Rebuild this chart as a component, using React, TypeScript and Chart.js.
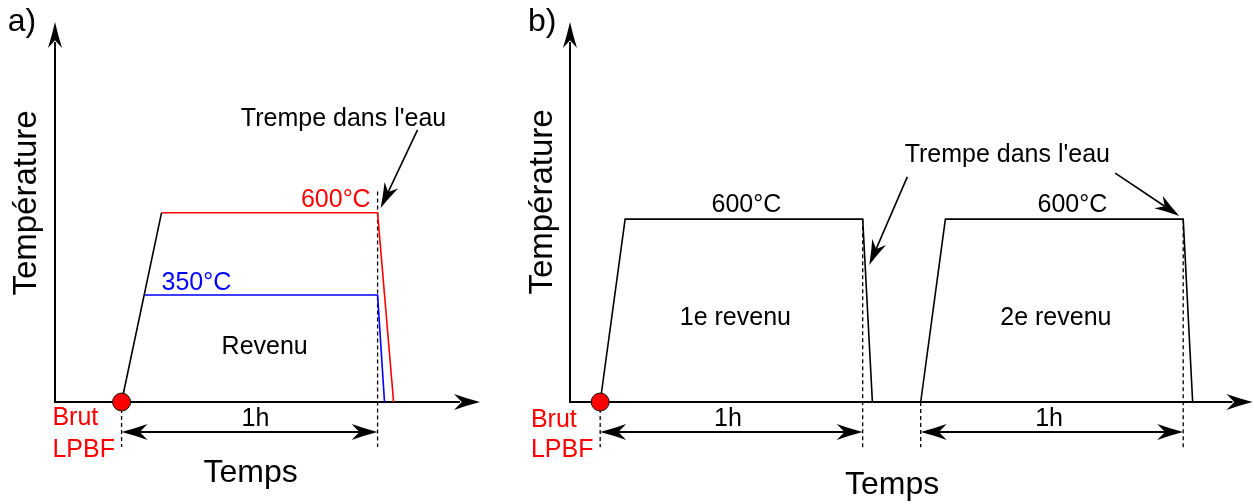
import React, { useEffect, useRef } from 'react';
import { Chart, registerables } from 'chart.js';

Chart.register(...registerables);

const FONT = '"Liberation Sans", Arial, Helvetica, sans-serif';

// ---------- Panel a) : single tempering at 600°C or 350°C ----------
const A_X_RANGE = [-0.26, 1.4]; // hours
const A_Y_RANGE = [25, 1180]; // °C (ambient at the time axis)
const A_RAMP_T = [0, 0.156];
const A_RAMP_TEMP = [25, 600];
const A_600_T = [0.156, 1.0, 1.0625];
const A_600_TEMP = [600, 600, 25];
const A_350_T = [0.088, 1.0, 1.027];
const A_350_TEMP = [350, 350, 25];
const A_DASH_T = [0, 1.0];
const A_DASH_TOP = [25, 665];
const A_DASH_BOTTOM = -112;
const A_SPAN_FROM = [0];
const A_SPAN_TO = [1.0];
const A_SPAN_LEVEL = -66;

// ---------- Panel b) : double tempering at 600°C ----------
const B_X_RANGE = [-0.115, 2.485];
const B_Y_RANGE = [25, 1220];
const B_CYCLE1_T = [0, 0.095, 1.0, 1.037];
const B_CYCLE1_TEMP = [25, 600, 600, 25];
const B_CYCLE2_T = [1.221, 1.315, 2.221, 2.257];
const B_CYCLE2_TEMP = [25, 600, 600, 25];
const B_DASH_T = [0, 1.0, 1.221, 2.221];
const B_DASH_TOP = [25, 600, 25, 600];
const B_DASH_BOTTOM = -117;
const B_SPAN_FROM = [0, 1.221];
const B_SPAN_TO = [1.0, 2.221];
const B_SPAN_LEVEL = -69;

type Txt = {
  text: string;
  t: number;
  temp: number;
  color?: string;
  size: number;
  align?: CanvasTextAlign;
  rotate?: boolean;
};
type Pointer = { from: [number, number]; to: [number, number] };
type Line = { t: number[]; temp: number[]; color: string; width: number; dash?: number[] };

type Spec = {
  left: number;
  width: number;
  padding: { left: number; right: number; top: number; bottom: number };
  xRange: number[];
  yRange: number[];
  lines: Line[];
  start: [number, number];
  spanFrom: number[];
  spanTo: number[];
  spanLevel: number;
  texts: Txt[];
  pointers: Pointer[];
};

function buildLines(t: number[], temp: number[]) {
  return t.map((x, i) => ({ x, y: temp[i] }));
}

function dashLines(ts: number[], tops: number[], bottom: number): Line[] {
  return ts.map((t, i) => ({ t: [t, t], temp: [tops[i], bottom], color: '#000', width: 1.3, dash: [4, 3] }));
}

const SPEC_A: Spec = {
  left: 0,
  width: 510,
  padding: { left: 55, right: 30, top: 22, bottom: 102 },
  xRange: A_X_RANGE,
  yRange: A_Y_RANGE,
  lines: [
    { t: A_RAMP_T, temp: A_RAMP_TEMP, color: '#000', width: 1.6 },
    { t: A_600_T, temp: A_600_TEMP, color: '#ff0000', width: 1.6 },
    { t: A_350_T, temp: A_350_TEMP, color: '#0000ff', width: 1.6 },
    ...dashLines(A_DASH_T, A_DASH_TOP, A_DASH_BOTTOM),
  ],
  start: [0, 25],
  spanFrom: A_SPAN_FROM,
  spanTo: A_SPAN_TO,
  spanLevel: A_SPAN_LEVEL,
  texts: [
    { text: 'a)', t: -0.445, temp: 1180, size: 32, align: 'left' },
    { text: 'Température', t: -0.371, temp: 630, size: 33, rotate: true },
    { text: 'Temps', t: 0.504, temp: -191, size: 32 },
    { text: '600°C', t: 0.973, temp: 639, size: 25, color: '#ff0000', align: 'right' },
    { text: '350°C', t: 0.156, temp: 387, size: 25, color: '#0000ff', align: 'left' },
    { text: 'Revenu', t: 0.559, temp: 192, size: 25 },
    { text: '1h', t: 0.523, temp: -27, size: 25 },
    { text: "Trempe dans l'eau", t: 0.867, temp: 885, size: 25 },
    { text: 'Brut', t: -0.27, temp: -24, size: 25, color: '#ff0000', align: 'left' },
    { text: 'LPBF', t: -0.27, temp: -121, size: 25, color: '#ff0000', align: 'left' },
  ],
  pointers: [{ from: [1.156, 852], to: [1.012, 615] }],
};

const SPEC_B: Spec = {
  left: 510,
  width: 744,
  padding: { left: 60, right: 1.5, top: 22, bottom: 102 },
  xRange: B_X_RANGE,
  yRange: B_Y_RANGE,
  lines: [
    { t: B_CYCLE1_T, temp: B_CYCLE1_TEMP, color: '#000', width: 1.6 },
    { t: B_CYCLE2_T, temp: B_CYCLE2_TEMP, color: '#000', width: 1.6 },
    ...dashLines(B_DASH_T, B_DASH_TOP, B_DASH_BOTTOM),
  ],
  start: [0, 25],
  spanFrom: B_SPAN_FROM,
  spanTo: B_SPAN_TO,
  spanLevel: B_SPAN_LEVEL,
  texts: [
    { text: 'b)', t: -0.275, temp: 1220, size: 32, align: 'left' },
    { text: 'Température', t: -0.219, temp: 654, size: 33, rotate: true },
    { text: 'Temps', t: 1.112, temp: -236, size: 32 },
    { text: '600°C', t: 0.557, temp: 645, size: 25 },
    { text: '600°C', t: 1.799, temp: 645, size: 25 },
    { text: '1e revenu', t: 0.515, temp: 289, size: 25 },
    { text: '2e revenu', t: 1.736, temp: 289, size: 25 },
    { text: '1h', t: 0.487, temp: -28, size: 25 },
    { text: '1h', t: 1.71, temp: -28, size: 25 },
    { text: "Trempe dans l'eau", t: 1.551, temp: 802, size: 25 },
    { text: 'Brut', t: -0.264, temp: -32, size: 25, color: '#ff0000', align: 'left' },
    { text: 'LPBF', t: -0.264, temp: -126, size: 25, color: '#ff0000', align: 'left' },
  ],
  pointers: [
    { from: [1.17, 733], to: [1.025, 456] },
    { from: [1.962, 745], to: [2.206, 610] },
  ],
};

function arrowHead(ctx: CanvasRenderingContext2D, x: number, y: number, angle: number, len: number, half: number) {
  ctx.save();
  ctx.translate(x, y);
  ctx.rotate(angle);
  ctx.beginPath();
  ctx.moveTo(0, 0);
  ctx.quadraticCurveTo(-len * 0.5, -half * 0.42, -len, -half);
  ctx.lineTo(-len * 0.7, 0);
  ctx.lineTo(-len, half);
  ctx.quadraticCurveTo(-len * 0.5, half * 0.42, 0, 0);
  ctx.closePath();
  ctx.fillStyle = '#000';
  ctx.fill();
  ctx.restore();
}

function arrowLine(
  ctx: CanvasRenderingContext2D,
  x1: number,
  y1: number,
  x2: number,
  y2: number,
  len: number,
  half: number,
  width: number,
  both = false
) {
  const ang = Math.atan2(y2 - y1, x2 - x1);
  const back = len * 0.7;
  const sx = both ? x1 + Math.cos(ang) * back : x1;
  const sy = both ? y1 + Math.sin(ang) * back : y1;
  const ex = x2 - Math.cos(ang) * back;
  const ey = y2 - Math.sin(ang) * back;
  ctx.save();
  ctx.strokeStyle = '#000';
  ctx.lineWidth = width;
  ctx.beginPath();
  ctx.moveTo(sx, sy);
  ctx.lineTo(ex, ey);
  ctx.stroke();
  ctx.restore();
  arrowHead(ctx, x2, y2, ang, len, half);
  if (both) arrowHead(ctx, x1, y1, ang + Math.PI, len, half);
}

function Panel({ spec }: { spec: Spec }) {
  const ref = useRef<HTMLCanvasElement | null>(null);
  useEffect(() => {
    if (!ref.current) return;
    const s = spec;
    const axesPlugin = {
      id: 'axesArrows',
      beforeDatasetsDraw(chart: any) {
        const ctx: CanvasRenderingContext2D = chart.ctx;
        const xs = chart.scales.x;
        const ys = chart.scales.y;
        const x0 = xs.getPixelForValue(s.xRange[0]);
        const x1 = xs.getPixelForValue(s.xRange[1]);
        const y0 = ys.getPixelForValue(s.yRange[0]);
        const y1 = ys.getPixelForValue(s.yRange[1]);
        ctx.save();
        ctx.strokeStyle = '#000';
        ctx.lineWidth = 2;
        ctx.beginPath();
        ctx.moveTo(x0, y1 + 20);
        ctx.lineTo(x0, y0);
        ctx.lineTo(x1 - 20, y0);
        ctx.stroke();
        ctx.restore();
        arrowHead(ctx, x0, y1, -Math.PI / 2, 26, 7);
        arrowHead(ctx, x1, y0, 0, 26, 8);
      },
    };
    const annotPlugin = {
      id: 'annotations',
      afterDatasetsDraw(chart: any) {
        const ctx: CanvasRenderingContext2D = chart.ctx;
        const xs = chart.scales.x;
        const ys = chart.scales.y;
        const px = (v: number) => xs.getPixelForValue(v);
        const py = (v: number) => ys.getPixelForValue(v);
        s.spanFrom.forEach((f, i) => {
          arrowLine(ctx, px(f), py(s.spanLevel), px(s.spanTo[i]), py(s.spanLevel), 26, 8, 2, true);
        });
        s.pointers.forEach((p) => {
          arrowLine(ctx, px(p.from[0]), py(p.from[1]), px(p.to[0]), py(p.to[1]), 25, 7.5, 1.6);
        });
        s.texts.forEach((tx) => {
          ctx.save();
          ctx.fillStyle = tx.color || '#000';
          ctx.font = `${tx.size}px ${FONT}`;
          ctx.textAlign = tx.align || 'center';
          ctx.textBaseline = 'middle';
          const x = px(tx.t);
          const y = py(tx.temp);
          if (tx.rotate) {
            ctx.translate(x, y);
            ctx.rotate(-Math.PI / 2);
            ctx.fillText(tx.text, 0, 0);
          } else {
            ctx.fillText(tx.text, x, y);
          }
          ctx.restore();
        });
      },
    };

    const datasets: any[] = [
      {
        label: 'start',
        data: [{ x: s.start[0], y: s.start[1] }],
        showLine: false,
        pointRadius: 9,
        pointBackgroundColor: '#ff0000',
        pointBorderColor: '#111',
        pointBorderWidth: 1,
        clip: false,
        order: 0,
      },
      ...s.lines.map((l, i) => ({
        label: 'line' + i,
        data: buildLines(l.t, l.temp),
        showLine: true,
        borderColor: l.color,
        borderWidth: l.width,
        borderDash: l.dash || [],
        pointRadius: 0,
        fill: false,
        tension: 0,
        clip: false,
        order: 1,
      })),
    ];

    const chart = new Chart(ref.current, {
      type: 'scatter',
      data: { datasets },
      options: {
        animation: false,
        responsive: false,
        maintainAspectRatio: false,
        devicePixelRatio: 1,
        layout: { padding: s.padding, autoPadding: false },
        plugins: { legend: { display: false }, tooltip: { enabled: false } },
        events: [],
        scales: {
          x: { type: 'linear', min: s.xRange[0], max: s.xRange[1], display: false },
          y: { type: 'linear', min: s.yRange[0], max: s.yRange[1], display: false },
        },
      },
      plugins: [axesPlugin, annotPlugin],
    } as any);
    return () => chart.destroy();
  }, [spec]);
  return (
    <canvas
      ref={ref}
      width={spec.width}
      height={504}
      style={{ position: 'absolute', left: spec.left, top: 0, width: spec.width, height: 504 }}
    />
  );
}

export default function App() {
  return (
    <div style={{ position: 'fixed', left: 0, top: 0, width: 1254, height: 504, background: '#fff', overflow: 'hidden' }}>
      <Panel spec={SPEC_A} />
      <Panel spec={SPEC_B} />
    </div>
  );
}
